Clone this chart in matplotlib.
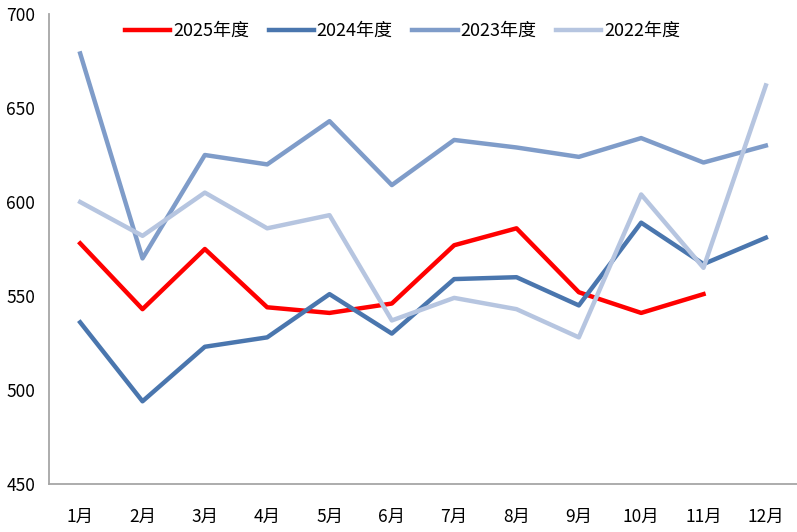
import matplotlib.pyplot as plt

plt.rcParams['font.family'] = ['Noto Sans CJK SC', 'DejaVu Sans']

months = ['1月', '2月', '3月', '4月', '5月', '6月', '7月', '8月', '9月', '10月', '11月', '12月']
y2025 = [578, 543, 575, 544, 541, 546, 577, 586, 552, 541, 551]
y2024 = [536, 494, 523, 528, 551, 530, 559, 560, 545, 589, 567, 581]
y2023 = [679, 570, 625, 620, 643, 609, 633, 629, 624, 634, 621, 630]
y2022 = [600, 582, 605, 586, 593, 537, 549, 543, 528, 604, 565, 662]

fig = plt.figure(figsize=(7.97, 5.32), dpi=100)
ax = fig.add_axes([0.0615, 0.0902, 0.9385, 0.8835])

lw = 3.2
ax.plot(range(len(y2025)), y2025, color='#FF0000', lw=lw, label='2025年度')
ax.plot(range(len(y2024)), y2024, color='#4A76AE', lw=lw, label='2024年度')
ax.plot(range(len(y2023)), y2023, color='#7F9CC9', lw=lw, label='2023年度')
ax.plot(range(len(y2022)), y2022, color='#B6C5E0', lw=lw, label='2022年度')

ax.set_xlim(-0.5, 11.5)
ax.set_ylim(450, 700)
ax.set_yticks([450, 500, 550, 600, 650, 700])
ax.set_xticks(range(12))
ax.set_xticklabels(months)
ax.tick_params(length=0, labelsize=12.5, colors='#000000')
ax.tick_params(axis='x', pad=17)
ax.tick_params(axis='y', pad=10)

for s in ['top', 'right']:
    ax.spines[s].set_visible(False)
for s in ['left', 'bottom']:
    ax.spines[s].set_color('#A6A6A6')
    ax.spines[s].set_linewidth(1.3)

ax.legend(loc='center', bbox_to_anchor=(0.4726, 0.964), ncol=4, frameon=False,
          fontsize=13, handlelength=2.5, handletextpad=0.15, columnspacing=1.1,
          borderaxespad=0, borderpad=0)

fig.savefig('out.png', dpi=100)
